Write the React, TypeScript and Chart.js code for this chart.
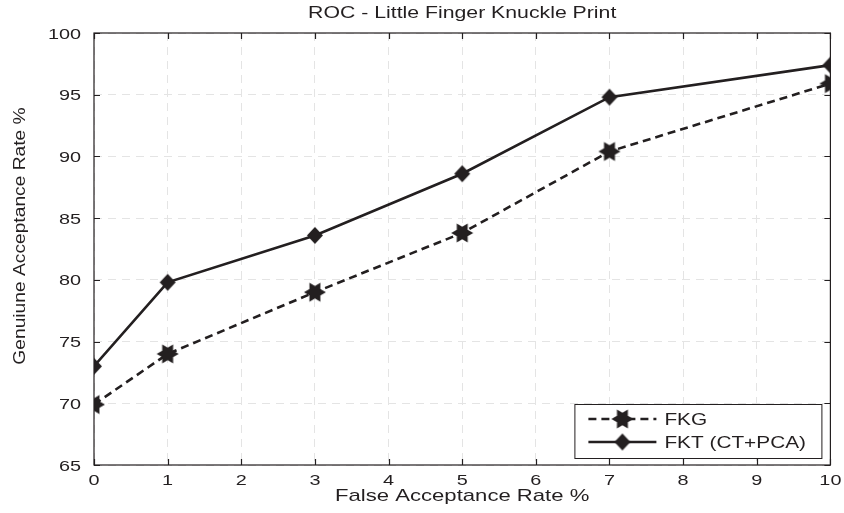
import React, { useEffect, useRef } from "react";
import { Chart, registerables } from "chart.js";

Chart.register(...registerables);

// ---- data ----
const xValues = [0, 1, 3, 5, 7, 10];
const fkgValues = [69.9, 74.0, 79.0, 83.8, 90.4, 95.9];
const fktValues = [73.0, 79.8, 83.6, 88.6, 94.8, 97.4];
const seriesLabels = ["FKG", "FKT (CT+PCA)"];
const xTicks = [0, 1, 2, 3, 4, 5, 6, 7, 8, 9, 10];
const yTicks = [65, 70, 75, 80, 85, 90, 95, 100];
const chartTitle = "ROC - Little Finger Knuckle Print";
const xTitle = "False Acceptance Rate %";
const yTitle = "Genuiune Acceptance Rate %";

const INK = "#231f20";
const FONT = "'Liberation Sans', Arial, Helvetica, sans-serif";

function makeHexagram(R: number, color: string): HTMLCanvasElement {
  const size = Math.ceil(R * 2 + 2);
  const c = document.createElement("canvas");
  c.width = size;
  c.height = size;
  const ctx = c.getContext("2d")!;
  const cx = size / 2;
  const cy = size / 2;
  const r = R * 0.57;
  ctx.beginPath();
  for (let i = 0; i < 12; i++) {
    const ang = (i * Math.PI) / 6;
    const rad = i % 2 === 0 ? R : r;
    const px = cx + rad * Math.cos(ang);
    const py = cy + rad * Math.sin(ang);
    if (i === 0) ctx.moveTo(px, py);
    else ctx.lineTo(px, py);
  }
  ctx.closePath();
  ctx.fillStyle = color;
  ctx.fill();
  return c;
}

function makeDiamond(hw: number, hh: number, color: string): HTMLCanvasElement {
  const w = Math.ceil(hw * 2 + 2);
  const h = Math.ceil(hh * 2 + 2);
  const c = document.createElement("canvas");
  c.width = w;
  c.height = h;
  const ctx = c.getContext("2d")!;
  const cx = w / 2;
  const cy = h / 2;
  ctx.beginPath();
  ctx.moveTo(cx, cy - hh);
  ctx.lineTo(cx + hw, cy);
  ctx.lineTo(cx, cy + hh);
  ctx.lineTo(cx - hw, cy);
  ctx.closePath();
  ctx.fillStyle = color;
  ctx.fill();
  return c;
}

function drawText(
  ctx: CanvasRenderingContext2D,
  text: string,
  x: number,
  y: number,
  size: number,
  sx: number,
  align: CanvasTextAlign,
  baseline: CanvasTextBaseline,
  rotate = 0
) {
  ctx.save();
  ctx.translate(x, y);
  if (rotate) ctx.rotate(rotate);
  ctx.scale(sx, 1);
  ctx.font = `${size}px ${FONT}`;
  ctx.fillStyle = INK;
  ctx.textAlign = align;
  ctx.textBaseline = baseline;
  ctx.fillText(text, 0, 0);
  ctx.restore();
}

export default function App() {
  const ref = useRef<HTMLCanvasElement | null>(null);

  useEffect(() => {
    const canvas = ref.current;
    if (!canvas) return;
    const star = makeHexagram(11, INK);
    const diamond = makeDiamond(8, 8.5, INK);

    const framePlugin = {
      id: "frame",
      beforeDatasetsDraw(chart: any) {
        const { ctx, chartArea: a, scales } = chart;
        ctx.save();
        ctx.strokeStyle = INK;
        ctx.lineWidth = 1.2;
        ctx.setLineDash([]);
        ctx.strokeRect(a.left, a.top, a.right - a.left, a.bottom - a.top);
        const tl = 6;
        ctx.beginPath();
        xTicks.forEach((v) => {
          const px = Math.round(scales.x.getPixelForValue(v)) + 0.5;
          ctx.moveTo(px, a.bottom);
          ctx.lineTo(px, a.bottom - tl);
          ctx.moveTo(px, a.top);
          ctx.lineTo(px, a.top + tl);
        });
        yTicks.forEach((v) => {
          const py = Math.round(scales.y.getPixelForValue(v)) + 0.5;
          ctx.moveTo(a.left, py);
          ctx.lineTo(a.left + tl, py);
          ctx.moveTo(a.right, py);
          ctx.lineTo(a.right - tl, py);
        });
        ctx.stroke();
        ctx.restore();

        // tick labels
        xTicks.forEach((v) => {
          drawText(ctx, String(v), scales.x.getPixelForValue(v), a.bottom + 20, 15.5, 1.28, "center", "alphabetic");
        });
        yTicks.forEach((v) => {
          drawText(ctx, String(v), a.left - 13, scales.y.getPixelForValue(v) + 5.5, 15.5, 1.28, "right", "alphabetic");
        });
        // axis titles
        drawText(ctx, xTitle, (a.left + a.right) / 2, a.bottom + 36, 17, 1.3, "center", "alphabetic");
        drawText(ctx, yTitle, 25, (a.top + a.bottom) / 2 - 13, 17, 1.13, "center", "alphabetic", -Math.PI / 2);
        // chart title
        drawText(ctx, chartTitle, (a.left + a.right) / 2, 18, 17, 1.25, "center", "alphabetic");
      },
      afterDraw(chart: any) {
        const { ctx, chartArea: a } = chart;
        ctx.save();
        const bw = 247;
        const bh = 54;
        const bx = a.right - 9 - bw;
        const by = a.bottom - 7 - bh;
        ctx.fillStyle = "#ffffff";
        ctx.fillRect(bx, by, bw, bh);
        ctx.strokeStyle = INK;
        ctx.lineWidth = 1;
        ctx.strokeRect(bx + 0.5, by + 0.5, bw, bh);
        const rows = [
          { label: seriesLabels[0], dash: [8, 5], marker: star },
          { label: seriesLabels[1], dash: [] as number[], marker: diamond },
        ];
        rows.forEach((r, i) => {
          const cy = by + 15 + i * 23;
          const x1 = bx + 14;
          const x2 = bx + 82;
          ctx.strokeStyle = INK;
          ctx.lineWidth = 2.5;
          ctx.setLineDash(r.dash);
          ctx.beginPath();
          ctx.moveTo(x1, cy);
          ctx.lineTo(x2, cy);
          ctx.stroke();
          ctx.setLineDash([]);
          const mx = (x1 + x2) / 2;
          ctx.drawImage(r.marker, mx - r.marker.width / 2, cy - r.marker.height / 2);
          drawText(ctx, r.label, bx + 90, cy + 6, 16, 1.3, "left", "alphabetic");
        });
        ctx.restore();
      },
    };

    const chart = new Chart(canvas, {
      type: "line",
      data: {
        datasets: [
          {
            label: seriesLabels[0],
            data: xValues.map((x, i) => ({ x, y: fkgValues[i] })),
            borderColor: INK,
            backgroundColor: INK,
            borderWidth: 2.6,
            borderDash: [8, 5],
            pointStyle: star as any,
            pointRadius: 11,
            fill: false,
            tension: 0,
          },
          {
            label: seriesLabels[1],
            data: xValues.map((x, i) => ({ x, y: fktValues[i] })),
            borderColor: INK,
            backgroundColor: INK,
            borderWidth: 2.6,
            pointStyle: diamond as any,
            pointRadius: 9,
            fill: false,
            tension: 0,
          },
        ],
      },
      options: {
        animation: false,
        responsive: false,
        maintainAspectRatio: false,
        layout: { padding: { top: 33, right: 11, left: 0, bottom: 0 } },
        plugins: {
          legend: { display: false },
          title: { display: false },
          tooltip: { enabled: false },
        },
        scales: {
          x: {
            type: "linear",
            min: 0,
            max: 10,
            afterBuildTicks: (s: any) => {
              s.ticks = xTicks.map((v) => ({ value: v }));
            },
            afterFit: (s: any) => {
              s.height = 48;
            },
            grid: { color: "#e4e4e4", lineWidth: 1, drawTicks: false },
            border: { display: false, dash: [8, 6] },
            ticks: { display: false, autoSkip: false },
            title: { display: false },
          },
          y: {
            type: "linear",
            min: 65,
            max: 100,
            afterBuildTicks: (s: any) => {
              s.ticks = yTicks.map((v) => ({ value: v }));
            },
            afterFit: (s: any) => {
              s.width = 94;
            },
            grid: { color: "#e4e4e4", lineWidth: 1, drawTicks: false },
            border: { display: false, dash: [8, 6] },
            ticks: { display: false, autoSkip: false },
            title: { display: false },
          },
        },
      },
      plugins: [framePlugin],
    } as any);

    return () => chart.destroy();
  }, []);

  return (
    <div style={{ position: "fixed", left: 0, top: 0, width: 844, height: 513, background: "#fff" }}>
      <canvas ref={ref} width={844} height={513} style={{ width: 844, height: 513, display: "block" }} />
    </div>
  );
}
